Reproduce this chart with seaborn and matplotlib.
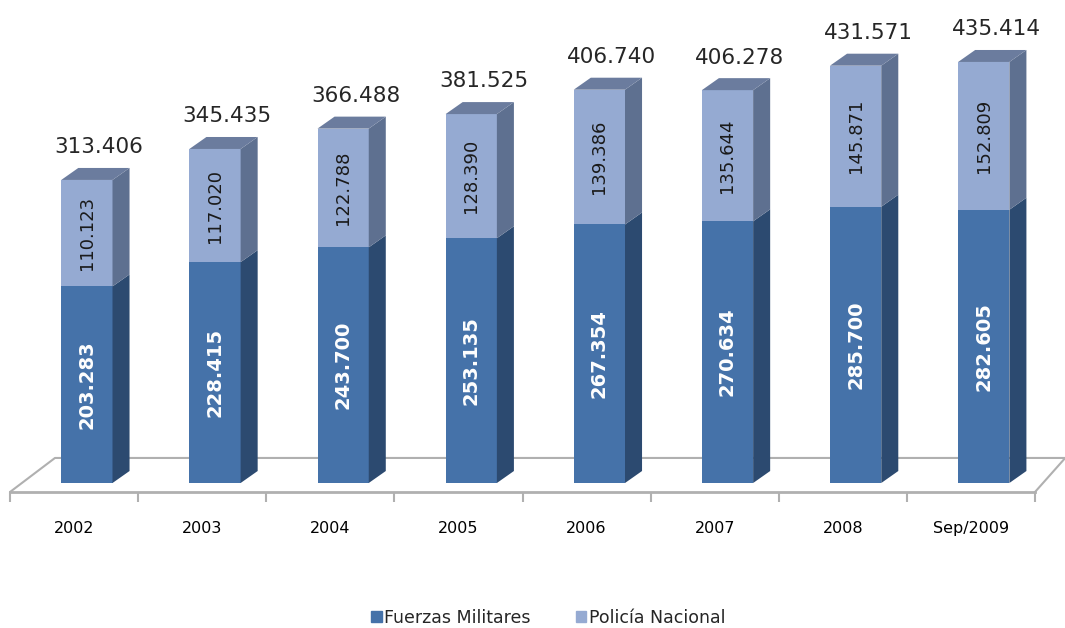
import matplotlib
matplotlib.use("Agg")
import matplotlib.pyplot as plt
from matplotlib.patches import Polygon, Patch
import pandas as pd
import seaborn as sns

years = ["2002", "2003", "2004", "2005", "2006", "2007", "2008", "Sep/2009"]
fuerzas = [203.283, 228.415, 243.700, 253.135, 267.354, 270.634, 285.700, 282.605]
policia = [110.123, 117.020, 122.788, 128.390, 139.386, 135.644, 145.871, 152.809]
totales = [313.406, 345.435, 366.488, 381.525, 406.740, 406.278, 431.571, 435.414]

c_fue, c_fue_side = "#4572A9", "#2C4A70"
c_pol, c_pol_side, c_top = "#95AAD2", "#5E7090", "#6B7C9E"
grey = "#B0B0B0"

sns.set_style("white")
plt.rcParams["font.family"] = ["DejaVu Sans"]

fig = plt.figure(figsize=(10.65, 6.28), dpi=100)
ax = fig.add_axes([10 / 1065, 136 / 628, 1025 / 1065, 492 / 628])

df = pd.DataFrame({"year": years, "total": totales, "fuerzas": fuerzas})
sns.barplot(data=df, x="year", y="total", color=c_pol, saturation=1,
            width=0.4, errorbar=None, ax=ax, zorder=3)
sns.barplot(data=df, x="year", y="fuerzas", color=c_fue, saturation=1,
            width=0.4, errorbar=None, ax=ax, zorder=3)

shift = 0.1
dx, dy = 0.133, 12.4
for p in ax.patches:
    p.set_x(p.get_x() + shift)
    p.set_edgecolor("none")

ax.set_xlim(-0.5, 7.5)
ax.set_ylim(-9.3, 499.5)

# 3D side and top faces
for i, (f, pl, t) in enumerate(zip(fuerzas, policia, totales)):
    x0 = i + shift - 0.2
    x1 = i + shift + 0.2
    ax.add_patch(Polygon([(x1, 0), (x1 + dx, dy), (x1 + dx, f + dy), (x1, f)],
                         closed=True, fc=c_fue_side, ec="none", zorder=3))
    ax.add_patch(Polygon([(x1, f), (x1 + dx, f + dy), (x1 + dx, t + dy), (x1, t)],
                         closed=True, fc=c_pol_side, ec="none", zorder=3))
    ax.add_patch(Polygon([(x0, t), (x1, t), (x1 + dx, t + dy), (x0 + dx, t + dy)],
                         closed=True, fc=c_top, ec="none", zorder=3))
    ax.text(i + shift, f / 2, f"{f:.3f}", rotation=90, ha="center", va="center",
            color="white", fontweight="bold", fontsize=14, zorder=4)
    ax.text(i + shift, f + pl / 2, f"{pl:.3f}", rotation=90, ha="center",
            va="center", color="#1a1a1a", fontsize=13, zorder=4)
    ax.text(i + shift + dx / 2 + 0.03, t + dy + 11, f"{t:.3f}", ha="center",
            va="bottom", color="#262626", fontsize=15.5, zorder=4)

# floor
ax.plot([-0.5, -0.149, 7.736, 7.5], [-9.3, 25.9, 25.9, -9.3], color=grey,
        lw=1.5, clip_on=False, zorder=1)
ax.add_patch(Polygon([(-0.5, -9.3), (-0.149, 25.9), (7.736, 25.9), (7.5, -9.3)],
                     closed=True, fc="white", ec="none", zorder=0, clip_on=False))

for s in ["top", "right", "left"]:
    ax.spines[s].set_visible(False)
ax.spines["bottom"].set_color(grey)
ax.spines["bottom"].set_linewidth(2)
ax.set_yticks([])
ax.set_xticks([i - 0.5 for i in range(9)], minor=True)
ax.tick_params(axis="x", which="minor", bottom=True, length=7, width=1.5,
               color=grey)
ax.tick_params(axis="x", which="major", length=0, pad=21, labelsize=11.5,
               labelcolor="black")
ax.set_xlabel("")
ax.set_ylabel("")

handles = [Patch(color=c_fue, label="Fuerzas Militares"),
           Patch(color=c_pol, label="Policía Nacional")]
fig.legend(handles=handles, loc="center", bbox_to_anchor=(0.515, 1 - 618 / 628),
           ncol=2, frameon=False, fontsize=12.5, handlelength=0.6,
           handleheight=0.6, handletextpad=0.15, columnspacing=2.6)

fig.savefig("out.png", dpi=100)
